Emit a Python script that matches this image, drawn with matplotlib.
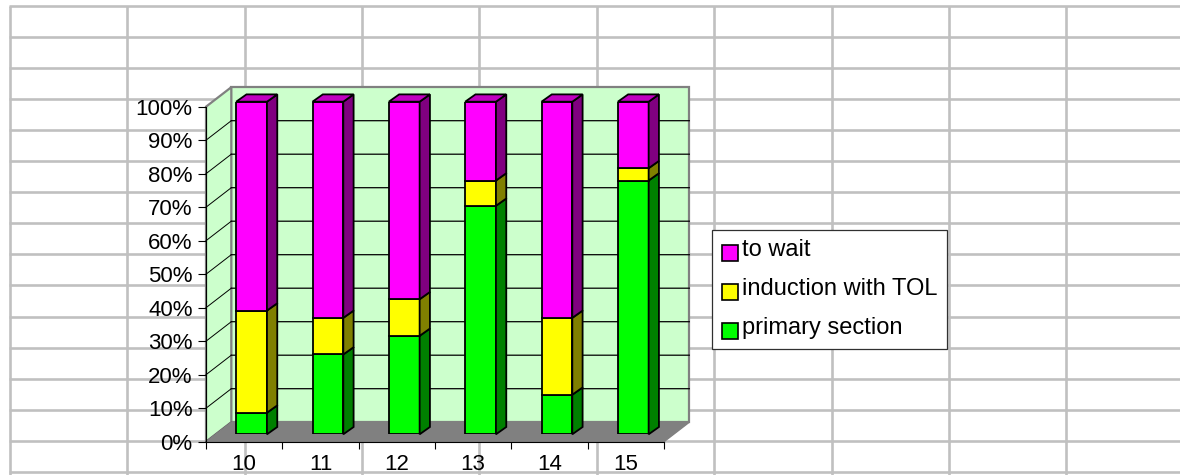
import numpy as np
import matplotlib
matplotlib.use("Agg")
import matplotlib.pyplot as plt
from matplotlib.patches import Patch, Polygon

plt.rcParams["font.family"] = ["Liberation Sans", "DejaVu Sans"]

# Stacked shares per group, percent
categories = ["10", "11", "12", "13", "14", "15"]
primary_section = [6.5, 24.0, 29.6, 68.7, 11.9, 76.3]
induction_tol = [30.7, 11.0, 11.0, 7.6, 23.1, 3.7]
to_wait = [62.8, 65.0, 59.4, 23.7, 65.0, 20.0]
y_tick_values = [0, 10, 20, 30, 40, 50, 60, 70, 80, 90, 100]
y_tick_labels = ["0%", "10%", "20%", "30%", "40%", "50%", "60%", "70%", "80%", "90%", "100%"]

W, H = 1180, 475
SHEET = "#C0C0C0"
WALL = "#CCFFCC"
GRAY = "#808080"


def px_axes(fig, left, right, top, bottom):
    """Add axes whose box is given in pixels from the top-left corner."""
    return fig.add_axes([left / W, 1 - bottom / H, (right - left) / W, (bottom - top) / H])


fig = plt.figure(figsize=(W / 100, H / 100), dpi=100, facecolor="white")

# Spreadsheet cells behind the chart
sheet = fig.add_axes([0, 0, 1, 1])
sheet.set_xlim(0, W)
sheet.set_ylim(H, 0)
sheet.axis("off")
for x in 9.8 + 117.4 * np.arange(10):
    sheet.plot([x, x], [5.5, H], color=SHEET, lw=1.9, solid_capstyle="butt")
for y in 5.5 + 31.1 * np.arange(16):
    sheet.plot([9, W], [y, y], color=SHEET, lw=1.9, solid_capstyle="butt")

# Front plane of the oblique chart box
ax = px_axes(fig, 206, 664, 106.7, 441.7)
ax.patch.set_alpha(0)
ax.set_xlim(0, len(categories))
ax.set_ylim(0, 100)
DX = 25.3 / (458 / 6)
DY = 19.5 / 3.35

wall = [(DX, DY), (6 + DX, DY), (6 + DX, 100 + DY), (DX, 100 + DY)]
side = [(0, 0), (DX, DY), (DX, 100 + DY), (0, 100)]
floor = [(0, 0), (6, 0), (6 + DX, DY), (DX, DY)]
ax.add_patch(Polygon(wall, fc=WALL, ec=GRAY, lw=1.6, clip_on=False, zorder=1))
ax.add_patch(Polygon(side, fc=WALL, ec=GRAY, lw=1.6, clip_on=False, zorder=1))
ax.add_patch(Polygon(floor, fc=GRAY, ec=GRAY, lw=1.0, clip_on=False, zorder=2))
for v in y_tick_values[1:-1]:
    ax.plot([DX, 6 + DX], [v + DY, v + DY], color="black", lw=0.9, clip_on=False,
            zorder=1.5, snap=False)
for v in y_tick_values[:-1]:
    ax.plot([0, DX], [v, v + DY], color="black", lw=0.7, clip_on=False, zorder=1.5)

for name in ("top", "right"):
    ax.spines[name].set_visible(False)
for name in ("left", "bottom"):
    ax.spines[name].set_linewidth(0.8)
ax.set_yticks(y_tick_values, y_tick_labels, fontsize=16)
ax.set_xticks(range(len(categories) + 1), [""] * (len(categories) + 1))
ax.set_xticks(np.arange(len(categories)) + 0.5, categories, minor=True, fontsize=16)
ax.tick_params(axis="y", length=6, width=0.8, pad=3.6)
ax.tick_params(axis="x", which="major", length=5, width=0.8)
ax.tick_params(axis="x", which="minor", length=0, pad=8.5)

# Stacked columns sit on a plane slightly behind the front of the box
bars = px_axes(fig, 213.4, 671.4, 101.7, 434.3)
bars.axis("off")
bars.set_xlim(0, len(categories))
bars.set_ylim(0, 100)
xs = np.arange(len(categories)) + 0.5
WIDTH = 30.8 / (458 / 6)
BX = 10.3 / (458 / 6)
BY = 7.3 / 3.326
series = [
    (primary_section, "#00FF00", "#008000", "primary section"),
    (induction_tol, "#FFFF00", "#808000", "induction with TOL"),
    (to_wait, "#FF00FF", "#800080", "to wait"),
]
base = np.zeros(len(categories))
for values, face, shade, label in series:
    values = np.array(values)
    bars.bar(xs, values, WIDTH, bottom=base, color=face, edgecolor="black", linewidth=1.3, zorder=3)
    for x, b, v in zip(xs, base, values):
        right = x + WIDTH / 2
        bars.add_patch(Polygon(
            [(right, b), (right + BX, b + BY), (right + BX, b + v + BY), (right, b + v)],
            fc=shade, ec="black", lw=1.3, clip_on=False, zorder=3))
    base = base + values
for x, top in zip(xs, base):
    left, right = x - WIDTH / 2, x + WIDTH / 2
    bars.add_patch(Polygon(
        [(left, top), (right, top), (right + BX, top + BY), (left + BX, top + BY)],
        fc="#C000C0", ec="black", lw=1.3, clip_on=False, zorder=3))

# Legend box to the right of the chart
handles = [Patch(fc=c, ec="black", lw=1.2) for _, c, _, _ in reversed(series)]
labels = [s[3] for s in reversed(series)]
leg = fig.legend(
    handles, labels,
    loc="upper left", bbox_to_anchor=(712.3 / W, 1 - 230 / H), borderaxespad=0,
    fontsize=17, frameon=True, fancybox=False, edgecolor="#303030", framealpha=1,
    handlelength=0.68, handleheight=0.68, handletextpad=0.18, labelspacing=0.72,
    borderpad=0.4,
)
leg.get_frame().set_linewidth(0.9)
leg.set_zorder(10)
# Swatches sit a little below the text centre
for swatch in leg.legend_handles:
    swatch.set_y(swatch.get_y() - 3.5)

fig.savefig("out.png", dpi=100)
